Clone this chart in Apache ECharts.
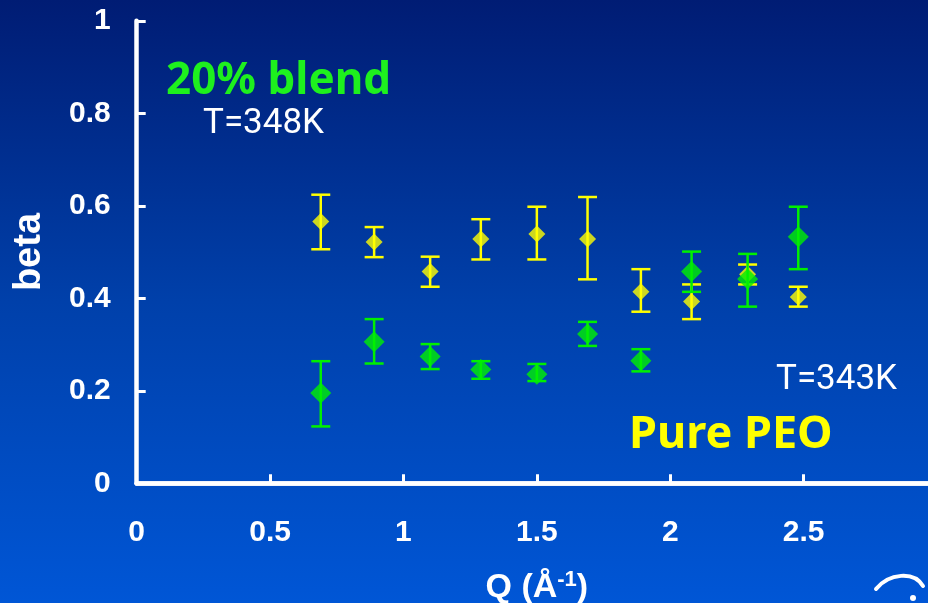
<!DOCTYPE html>
<html>
<head>
<meta charset="utf-8">
<script src="https://cdn.jsdelivr.net/npm/echarts@6/dist/echarts.min.js"></script>
<style>
html,body{margin:0;padding:0;background:#0040b0;}
#c{width:928px;height:603px;}
</style>
</head>
<body>
<div id="c"></div>
<script>
// Q values (Å^-1)
var qValues = [0.69, 0.89, 1.1, 1.29, 1.5, 1.69, 1.89, 2.08, 2.29, 2.48];
// Pure PEO, T=343K
var peoBeta = [0.566, 0.522, 0.458, 0.528, 0.539, 0.528, 0.414, 0.393, 0.452, 0.403];
var peoLow  = [0.506, 0.489, 0.425, 0.484, 0.484, 0.441, 0.371, 0.355, 0.430, 0.382];
var peoHigh = [0.624, 0.554, 0.490, 0.571, 0.598, 0.619, 0.463, 0.430, 0.473, 0.425];
// 20% blend, T=348K
var blendBeta = [0.195, 0.306, 0.274, 0.246, 0.236, 0.323, 0.265, 0.458, 0.442, 0.533];
var blendLow  = [0.123, 0.259, 0.247, 0.226, 0.221, 0.297, 0.242, 0.414, 0.382, 0.463];
var blendHigh = [0.264, 0.355, 0.301, 0.264, 0.258, 0.349, 0.290, 0.501, 0.496, 0.598];

var YELLOW = '#ffff00';
var GREEN = '#00f000';

function pts(xs, ys) { return xs.map(function (x, i) { return [x, ys[i]]; }); }
function errs(xs, lo, hi) { return xs.map(function (x, i) { return [x, lo[i], hi[i]]; }); }

function errorBar(color) {
  return function (params, api) {
    var x = api.value(0);
    var lo = api.coord([x, api.value(1)]);
    var hi = api.coord([x, api.value(2)]);
    var hw = 9.5;
    var style = { stroke: color, lineWidth: 2.5 };
    return {
      type: 'group',
      children: [
        { type: 'line', shape: { x1: lo[0], y1: lo[1], x2: hi[0], y2: hi[1] }, style: style },
        { type: 'line', shape: { x1: lo[0] - hw, y1: lo[1], x2: lo[0] + hw, y2: lo[1] }, style: style },
        { type: 'line', shape: { x1: hi[0] - hw, y1: hi[1], x2: hi[0] + hw, y2: hi[1] }, style: style }
      ]
    };
  };
}

var chart = echarts.init(document.getElementById('c'), null, { renderer: 'canvas' });
var axisFont = { color: '#ffffff', fontFamily: 'Liberation Sans', fontWeight: 'bold', fontSize: 30 };

chart.setOption({
  animation: false,
  backgroundColor: {
    type: 'linear', x: 0, y: 0, x2: 0, y2: 1,
    colorStops: [
      { offset: 0, color: '#001c74' },
      { offset: 0.5, color: '#0040aa' },
      { offset: 1, color: '#0056d6' }
    ]
  },
  grid: { left: 136.7, right: -9, top: 20.8, bottom: 119.7, outerBoundsMode: 'none', containLabel: false },
  xAxis: [{
    type: 'value', min: 0, max: 3, interval: 0.5,
    name: 'Q (Å{sup|-1})', nameLocation: 'middle', nameGap: 86,
    nameTextStyle: {
      color: '#ffffff', fontFamily: 'Liberation Sans', fontWeight: 'bold', fontSize: 34,
      rich: { sup: { color: '#ffffff', fontFamily: 'Liberation Sans', fontWeight: 'bold', fontSize: 22, verticalAlign: 'top', padding: [0, 0, 14, 0] } }
    },
    axisLine: { show: true, onZero: false, lineStyle: { color: '#ffffff', width: 4.5 } },
    axisTick: { show: true, inside: true, length: 9, lineStyle: { color: '#ffffff', width: 3 } },
    axisLabel: Object.assign({ margin: 34, showMaxLabel: false }, axisFont),
    splitLine: { show: false }
  }, {
    type: 'value', min: 0, max: 3, position: 'top',
    axisLine: { show: true, lineStyle: { color: '#ffffff', width: 4.5 } },
    axisTick: { show: false }, axisLabel: { show: false }, splitLine: { show: false }
  }],
  yAxis: {
    type: 'value', min: 0, max: 1, interval: 0.2,
    name: 'beta', nameLocation: 'middle', nameGap: 88, nameRotate: 90,
    nameTextStyle: { color: '#ffffff', fontFamily: 'Liberation Sans', fontWeight: 'bold', fontSize: 38 },
    axisLine: { show: true, onZero: false, lineStyle: { color: '#ffffff', width: 4.5 } },
    axisTick: { show: true, inside: true, length: 9, lineStyle: { color: '#ffffff', width: 3 } },
    axisLabel: Object.assign({ margin: 26 }, axisFont),
    splitLine: { show: false }
  },
  series: [
    { name: 'Pure PEO err', type: 'custom', renderItem: errorBar(YELLOW), data: errs(qValues, peoLow, peoHigh), encode: { x: 0, y: [1, 2] }, z: 2 },
    { name: 'Pure PEO', type: 'scatter', symbol: 'diamond', symbolSize: 17, itemStyle: { color: YELLOW }, data: pts(qValues, peoBeta), z: 3 },
    { name: '20% blend err', type: 'custom', renderItem: errorBar(GREEN), data: errs(qValues, blendLow, blendHigh), encode: { x: 0, y: [1, 2] }, z: 4 },
    { name: '20% blend', type: 'scatter', symbol: 'diamond', symbolSize: 21, itemStyle: { color: GREEN }, data: pts(qValues, blendBeta), z: 5 }
  ],
  graphic: [
    { type: 'text', left: 166, top: 59, style: { text: '20% blend', fill: '#1ef01e', font: 'bold 44px "Noto Sans"' } },
    { type: 'text', left: 203, top: 107, style: { text: 'T=348K', fill: '#ffffff', font: '35px Roboto' } },
    { type: 'text', left: 776, top: 363, style: { text: 'T=343K', fill: '#ffffff', font: '35px Roboto' } },
    { type: 'text', left: 629, top: 413, style: { text: 'Pure PEO', fill: '#ffff00', font: 'bold 45px "Noto Sans"' } },
    { type: 'bezierCurve', shape: { x1: 876, y1: 589, cpx1: 889, cpy1: 573, cpx2: 914, cpy2: 571, x2: 923, y2: 586 }, style: { stroke: '#ffffff', lineWidth: 4, lineCap: 'round', fill: null } },
    { type: 'circle', shape: { cx: 913, cy: 598, r: 3 }, style: { fill: '#ffffff' } }
  ]
});
</script>
</body>
</html>
